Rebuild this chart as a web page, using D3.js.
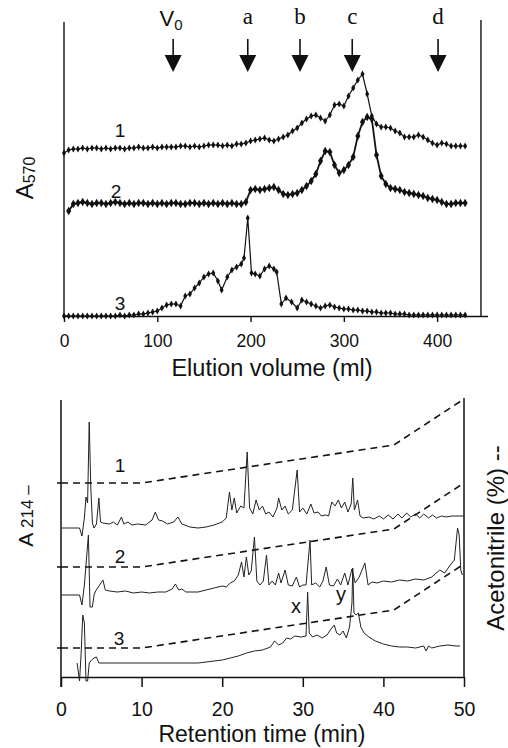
<!DOCTYPE html>
<html>
<head>
<meta charset="utf-8">
<script src="https://cdn.jsdelivr.net/npm/d3@7"></script>
<style>
  body { margin: 0; background: #fff; }
  text { font-family: "Liberation Sans", Arial, sans-serif; fill: #111; }
</style>
</head>
<body>
<svg id="chart" width="508" height="748"></svg>
<script>
// ---------- top panel : gel filtration, A570 per fraction ----------
var vol1 = [0, 5, 10, 15, 20, 25, 30, 35, 40, 45, 50, 55, 60, 65, 70, 75, 80, 85, 90, 95, 100, 105, 110, 115, 120, 125, 130, 135, 140, 145, 150, 155, 160, 165, 170, 175, 180, 185, 190, 195, 200, 205, 210, 215, 220, 225, 230, 235, 240, 245, 250, 255, 260, 265, 270, 275, 280, 285, 290, 295, 300, 305, 310, 315, 320, 325, 330, 335, 340, 345, 350, 355, 360, 365, 370, 375, 380, 385, 390, 395, 400, 405, 410, 415, 420, 425, 430]
var a570_1 = [163, 166, 167, 167, 168, 167, 168, 168, 167, 168, 167, 168, 168, 167, 168, 168, 169, 168, 168, 169, 168, 169, 169, 169, 169, 170, 170, 169, 170, 169, 170, 171, 171, 171, 170, 171, 170, 172, 172, 173, 175, 176, 177, 178, 176, 175, 177, 179, 181, 185, 188, 193, 197, 200, 201, 198, 195, 201, 211, 212, 210, 220, 228, 236, 242, 222, 200, 192, 189, 189, 188, 185, 183, 179, 179, 179, 181, 179, 176, 173, 171, 173, 172, 170, 170, 170, 170]

var vol2 = [5, 10, 15, 20, 25, 30, 35, 40, 45, 50, 55, 60, 65, 70, 75, 80, 85, 90, 95, 100, 105, 110, 115, 120, 125, 130, 135, 140, 145, 150, 155, 160, 165, 170, 175, 180, 185, 190, 195, 200, 205, 210, 215, 220, 225, 230, 235, 240, 245, 250, 255, 260, 265, 270, 275, 280, 285, 290, 295, 300, 305, 310, 315, 320, 325, 330, 335, 340, 345, 350, 355, 360, 365, 370, 375, 380, 385, 390, 395, 400, 405, 410, 415, 420, 425, 430]
var a570_2 = [105, 112, 113, 114, 113, 112, 113, 113, 112, 113, 114, 113, 112, 113, 112, 113, 113, 112, 113, 112, 113, 112, 113, 113, 112, 112, 113, 113, 112, 113, 112, 113, 112, 113, 112, 113, 112, 112, 114, 126, 127, 126, 127, 128, 129, 126, 122, 121, 122, 123, 126, 130, 135, 142, 155, 165, 164, 151, 143, 146, 151, 159, 180, 194, 199, 197, 161, 140, 132, 128, 127, 126, 124, 123, 122, 121, 120, 118, 117, 116, 114, 112, 112, 113, 113, 113]

var vol3 = [0, 5, 10, 15, 20, 25, 30, 35, 40, 45, 50, 55, 60, 65, 70, 75, 80, 85, 90, 95, 100, 105, 110, 115, 120, 125, 130, 135, 140, 145, 150, 155, 160, 165, 169, 175, 180, 185, 190, 193, 197, 201, 205, 210, 215, 220, 225, 228, 233, 238, 244, 250, 255, 260, 265, 270, 275, 280, 285, 290, 295, 300, 305, 310, 315, 320, 325, 330, 335, 340, 345, 350, 355, 360, 365, 370, 375, 380, 385, 390, 395, 400, 405, 410, 415, 420, 425, 430]
var a570_3 = [0, 0, 0, 0, 0, 0, 0, 0, 0, 0, 0, 0, 1, 0, 1, 1, 2, 2, 3, 4, 5, 8, 11, 12, 12, 10, 20, 22, 28, 33, 39, 42, 43, 35, 26, 39, 46, 49, 52, 58, 98, 43, 42, 40, 47, 50, 47, 44, 12, 18, 14, 8, 16, 14, 12, 10, 8, 10, 11, 9, 8, 7, 7, 6, 6, 5, 5, 4, 4, 3, 3, 3, 2, 2, 2, 1, 1, 1, 1, 1, 1, 1, 1, 1, 1, 1, 1, 1]

var markerNames = ['V0', 'a', 'b', 'c', 'd']
var markerVolumes = [117, 197, 253, 309, 401]
var volumeTicks = [0, 100, 200, 300, 400]

// ---------- bottom panel : RP-HPLC, A214 ----------
var time1 = [0, 2.3, 2.6, 2.9, 3.1, 3.3, 3.5, 3.7, 3.9, 4.1, 4.4, 4.7, 4.9, 5.2, 6, 6.5, 7, 7.5, 7.8, 8.3, 8.8, 9.5, 10.5, 11.3, 11.7, 12.1, 12.6, 13.2, 14, 14.5, 15, 16, 17, 18, 19, 20, 20.5, 20.9, 21.2, 21.5, 21.8, 22.3, 22.7, 23.1, 23.4, 23.8, 24.2, 24.6, 25, 25.4, 25.8, 26.3, 26.8, 27, 27.4, 27.8, 28.2, 28.7, 29.3, 29.6, 30, 30.5, 31, 31.4, 31.9, 32.3, 32.8, 33.2, 33.6, 34, 34.4, 34.8, 35.2, 35.6, 36, 36.2, 36.4, 36.8, 37.1, 37.5, 38.2, 38.8, 39.5, 40, 40.6, 41.2, 41.8, 42.3, 42.9, 43.4, 44, 44.5, 45, 45.6, 46.1, 46.6, 47.2, 47.8, 48.5, 49, 50]
var a214_1 = [0, 0, -8, 10, 31, 25, 106, 40, 5, 0, 4, 30, 6, 5, 4, 6, 3, 11, 4, 6, 3, 4, 3, 8, 16, 8, 7, 4, 6, 11, 4, 1, 0, 1, 3, 6, 10, 36, 18, 30, 15, 22, 20, 76, 20, 14, 28, 18, 22, 14, 16, 11, 20, 30, 18, 22, 14, 18, 58, 16, 20, 14, 24, 15, 16, 12, 13, 12, 26, 22, 28, 20, 26, 16, 24, 50, 18, 28, 12, 10, 11, 9, 12, 9, 13, 9, 14, 10, 15, 11, 14, 10, 14, 10, 13, 10, 12, 11, 12, 12, 12]

var time2 = [0, 2.3, 2.6, 2.9, 3.2, 3.4, 3.6, 3.9, 4.1, 4.3, 5.2, 5.5, 6, 7, 8, 9, 10, 11, 12, 13, 13.8, 14.2, 14.6, 15, 15.5, 16, 17, 18, 19, 20, 20.5, 21, 21.5, 22, 22.4, 22.7, 23, 23.3, 23.6, 24, 24.3, 24.7, 25.1, 25.5, 25.8, 26.2, 26.6, 27, 27.3, 27.8, 28.2, 28.7, 29.2, 29.6, 30, 30.4, 30.9, 31.1, 31.6, 32.1, 32.5, 32.9, 33.3, 33.8, 34.3, 34.7, 35.2, 35.6, 36.1, 36.5, 37, 37.7, 38.1, 38.6, 39.2, 40, 41, 42, 43, 44, 45, 46, 47, 47.6, 48.3, 48.8, 49.2, 49.4, 49.6, 49.8]
var a214_2 = [0, 0, -10, 10, 40, 60, -12, -12, 0, 4, 15, 5, 4, 3, 4, 2, 3, 2, 3, 3, 6, 11, 5, 6, 3, 3, 3, 5, 7, 9, 8, 12, 14, 20, 33, 18, 38, 20, 24, 58, 14, 10, 14, 40, 10, 14, 10, 22, 12, 25, 10, 9, 18, 8, 10, 10, 55, 10, 12, 8, 14, 28, 10, 9, 16, 10, 22, 10, 26, 12, 18, 32, 10, 13, 12, 14, 13, 15, 14, 16, 15, 18, 25, 22, 30, 35, 67, 60, 25, 20]

var time3 = [2, 2.3, 2.5, 2.7, 2.9, 3.1, 3.3, 3.5, 3.8, 4.1, 4.4, 4.7, 17, 18, 20, 21, 22, 23, 24, 25, 26, 26.5, 27, 27.5, 28, 28.5, 29, 29.8, 30.4, 30.6, 30.8, 31.2, 31.8, 32.4, 33, 33.5, 33.9, 34.2, 34.6, 35, 35.4, 35.8, 36.1, 36.2, 36.35, 36.6, 36.9, 37.2, 37.6, 38.2, 39, 40, 41, 42, 43, 44, 45, 45.3, 45.6, 46, 47, 48, 49, 49.5]
var a214_3 = [0, -18, 10, 48, 40, -18, -18, 0, 3, 5, 6, 0, 0, 1, 3, 5, 7, 10, 12, 13, 16, 22, 18, 20, 25, 24, 27, 26, 27, 71, 30, 26, 28, 25, 28, 34, 38, 30, 28, 32, 25, 36, 60, 95, 50, 48, 50, 36, 30, 26, 22, 19, 17, 16, 16, 15, 17, 12, 17, 15, 17, 18, 17, 17]

// acetonitrile gradient (%)
var gradTime = [0, 10, 41.3, 50]
var gradPct = [5, 5, 48, 100]
var timeTicks = [0, 10, 20, 30, 40, 50]

var traceNames = ['1', '2', '3']

// ---------- layout ----------
var svg = d3.select('#chart')

var xTop = d3.scaleLinear().domain([0, 454]).range([64, 487.5])
var yTop = d3.scaleLinear().domain([0, 300]).range([316, 16])

var xBot = d3.scaleLinear().domain([0, 50]).range([61, 464])
var yBot = d3.scaleLinear().domain([0, 277]).range([677, 400])
var acn = d3.scaleLinear().domain([5, 100]).range([0, 84])
var traceOffset = [149, 82, 14]
var gradOffset = [194, 110, 29]

// ===== top panel =====
var topPanel = svg.append('g')

topPanel.append('line').attr('x1', 64).attr('x2', 64).attr('y1', 22).attr('y2', 316)
    .attr('stroke', '#111').attr('stroke-width', 1.4)
topPanel.append('line').attr('x1', xTop(447)).attr('x2', xTop(447)).attr('y1', 20).attr('y2', 316)
    .attr('stroke', '#111').attr('stroke-width', 1.4)

var xAxisTop = d3.axisBottom(xTop).tickValues(volumeTicks).tickSize(6).tickSizeOuter(0).tickPadding(13)
var gx = topPanel.append('g').attr('transform', 'translate(0,316)').call(xAxisTop)
gx.selectAll('path, line').attr('stroke', '#111').attr('stroke-width', 1.4)
gx.selectAll('text').style('font-size', '17.5px').style('font-family', '"Liberation Sans", Arial, sans-serif').attr('fill', '#111')

topPanel.append('text').attr('x', 272).attr('y', 376).attr('text-anchor', 'middle')
    .style('font-size', '23.5px').text('Elution volume (ml)')

var ylab = topPanel.append('text').attr('transform', 'translate(33,178) rotate(-90)')
    .attr('text-anchor', 'middle').style('font-size', '24px')
ylab.append('tspan').text('A')
ylab.append('tspan').attr('dy', 2).style('font-size', '16px').text('570')

var curves = [
    { v: vol1, a: a570_1, w: 1.2, s: 14 },
    { v: vol2, a: a570_2, w: 1.8, s: 22 },
    { v: vol3, a: a570_3, w: 1.2, s: 14 }
]
var line = d3.line().x(d => xTop(d[0])).y(d => yTop(d[1]))
var diamond = d3.symbol().type(d3.symbolDiamond)

curves.forEach(function (c) {
    var pts = c.v.map((d, i) => [d, c.a[i]])
    topPanel.append('path').datum(pts).attr('d', line)
        .attr('fill', 'none').attr('stroke', '#111').attr('stroke-width', c.w)
    topPanel.append('g').selectAll('path').data(pts).join('path')
        .attr('transform', d => 'translate(' + xTop(d[0]) + ',' + yTop(d[1]) + ')')
        .attr('d', diamond.size(c.s)())
        .attr('fill', '#111')
})

// curve labels
var topLabelPos = [[120, 137], [116, 198], [120, 310]]
traceNames.forEach(function (n, i) {
    topPanel.append('text').attr('x', topLabelPos[i][0]).attr('y', topLabelPos[i][1])
        .attr('text-anchor', 'middle').style('font-size', '19px').text(n)
})

// marker arrows
markerNames.forEach(function (n, i) {
    var x = xTop(markerVolumes[i])
    topPanel.append('line').attr('x1', x).attr('x2', x).attr('y1', 39).attr('y2', 57)
        .attr('stroke', '#111').attr('stroke-width', 1.6)
    topPanel.append('path').attr('d', 'M' + (x - 8.5) + ',55L' + (x + 8.5) + ',55L' + x + ',72Z')
        .attr('fill', '#111')
    if (n == 'V0') {
        var t = topPanel.append('text').attr('x', x - 2).attr('y', 26).attr('text-anchor', 'middle')
            .style('font-size', '22px')
        t.append('tspan').text('V')
        t.append('tspan').attr('dy', 4).style('font-size', '15px').text('0')
    } else {
        topPanel.append('text').attr('x', x).attr('y', 24).attr('text-anchor', 'middle')
            .style('font-family', '"Liberation Serif", "Times New Roman", serif')
            .style('font-size', '23px').text(n)
    }
})

// ===== bottom panel =====
var bot = svg.append('g')

bot.append('line').attr('x1', 61).attr('x2', 61).attr('y1', 400).attr('y2', 687)
    .attr('stroke', '#111').attr('stroke-width', 1.5)
bot.append('line').attr('x1', 464).attr('x2', 464).attr('y1', 398).attr('y2', 677)
    .attr('stroke', '#111').attr('stroke-width', 1.5)

var xAxisBot = d3.axisBottom(xBot).tickValues(timeTicks).tickSize(10).tickSizeOuter(0).tickPadding(15)
var gxb = bot.append('g').attr('transform', 'translate(0,677)').call(xAxisBot)
gxb.selectAll('path, line').attr('stroke', '#111').attr('stroke-width', 1.5)
gxb.selectAll('text').style('font-size', '19.5px').style('font-family', '"Liberation Sans", Arial, sans-serif').attr('fill', '#111')

bot.append('text').attr('x', 262).attr('y', 742).attr('text-anchor', 'middle')
    .style('font-size', '23px').text('Retention time (min)')

var ylab2 = bot.append('text').attr('transform', 'translate(33,516) rotate(-90)')
    .attr('text-anchor', 'middle').style('font-size', '21px')
ylab2.append('tspan').text('A ')
ylab2.append('tspan').style('font-size', '17px').text('214')
ylab2.append('tspan').style('font-size', '17px').text(' \u2013')

bot.append('text').attr('transform', 'translate(504,538) rotate(-90)')
    .attr('text-anchor', 'middle').style('font-size', '24px').text('Acetonitrile (%) --')

var traces = [[time1, a214_1], [time2, a214_2], [time3, a214_3]]
var botLabelPos = [[120, 472], [120, 563], [119, 645]]

traces.forEach(function (tr, i) {
    var pts = tr[0].map((t, j) => [t, tr[1][j]])
    var tline = d3.line().x(d => xBot(d[0])).y(d => yBot(d[1] + traceOffset[i]))
    bot.append('path').datum(pts).attr('d', tline)
        .attr('fill', 'none').attr('stroke', '#222').attr('stroke-width', 1)

    var gpts = gradTime.map((t, j) => [t, gradPct[j]])
    var gline = d3.line().x(d => xBot(d[0])).y(d => yBot(gradOffset[i] + acn(d[1])))
    bot.append('path').datum(gpts).attr('d', gline)
        .attr('fill', 'none').attr('stroke', '#111').attr('stroke-width', 1.6)
        .attr('stroke-dasharray', '7,5')

    bot.append('line').attr('x1', 57).attr('x2', 61)
        .attr('y1', yBot(gradOffset[i])).attr('y2', yBot(gradOffset[i]))
        .attr('stroke', '#111').attr('stroke-width', 1.5)

    bot.append('text').attr('x', botLabelPos[i][0]).attr('y', botLabelPos[i][1])
        .attr('text-anchor', 'middle').style('font-size', '19px').text(traceNames[i])
})

bot.append('text').attr('x', 296).attr('y', 613).attr('text-anchor', 'middle')
    .style('font-size', '20px').text('x')
bot.append('text').attr('x', 341).attr('y', 601).attr('text-anchor', 'middle')
    .style('font-size', '20px').text('y')
</script>
</body>
</html>
